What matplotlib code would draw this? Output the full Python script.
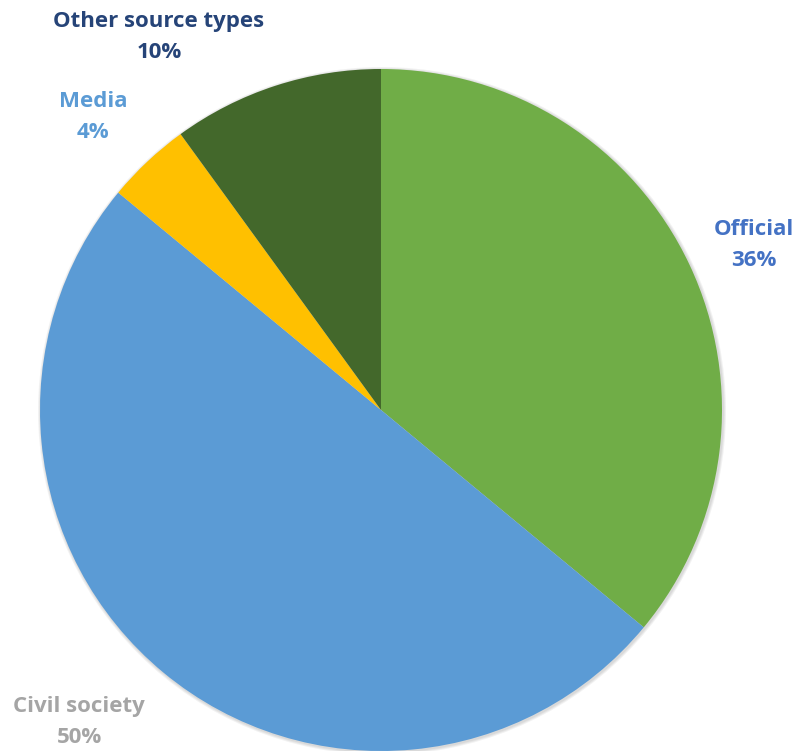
import matplotlib.pyplot as plt
from matplotlib.patches import Circle

categories = ['Official', 'Civil society', 'Media', 'Other source types']
shares = [36, 50, 4, 10]
slice_colors = ['#70AD47', '#5B9BD5', '#FFC000', '#43682B']
label_colors = ['#4472C4', '#A5A5A5', '#5B9BD5', '#264478']
# label centres in pixel space (y measured from the bottom)
label_xy = [(754, 506), (79, 29), (93, 634), (159, 714)]

W, H = 798, 751
cx, cy, r = 381, 341, 341

fig = plt.figure(figsize=(W / 100, H / 100), dpi=100)
ax = fig.add_axes([0, 0, 1, 1])
ax.set_xlim(0, W)
ax.set_ylim(0, H)
ax.set_aspect('equal')
ax.axis('off')

# soft drop shadow under the pie
for k, a in enumerate([0.05, 0.05, 0.05]):
    ax.add_patch(Circle((cx + 1, cy - 1), r + 1 + k, color='black', alpha=a, lw=0, zorder=0))

ax.pie(shares, colors=slice_colors, startangle=90, counterclock=False,
       center=(cx, cy), radius=r, frame=True,
       wedgeprops=dict(linewidth=0, zorder=1))
ax.set_xlim(0, W)
ax.set_ylim(0, H)
ax.axis('off')

for name, val, col, (lx, ly) in zip(categories, shares, label_colors, label_xy):
    ax.text(lx, ly, f'{name}\n{val}%', color=col, ha='center', va='center',
            fontsize=16, fontweight='bold', family='Open Sans', linespacing=1.6)

fig.savefig('out.png', dpi=100)
